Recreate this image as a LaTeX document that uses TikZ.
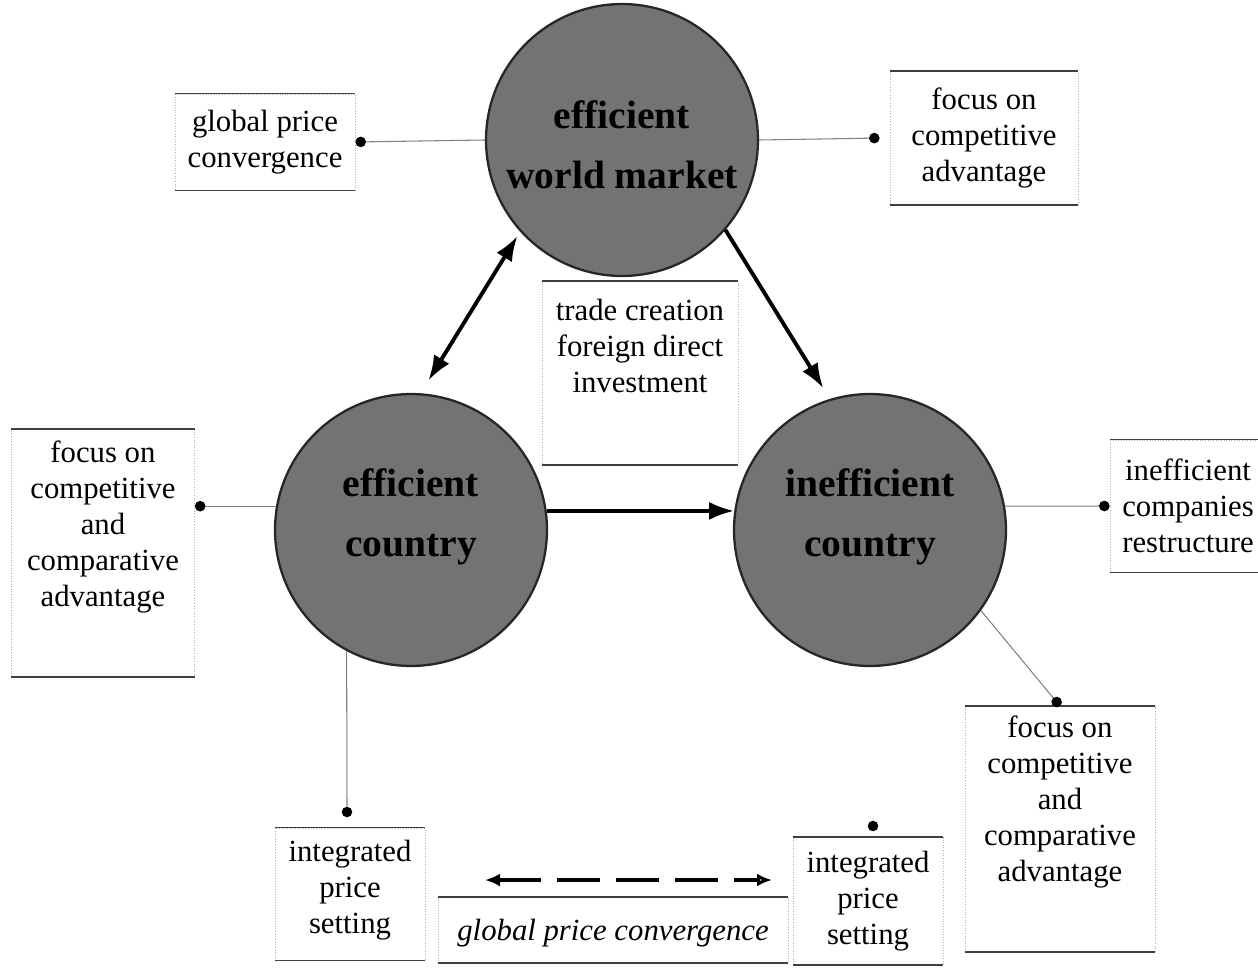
\documentclass[tikz,border=0pt]{standalone}
\usepackage{fontspec}
\setmainfont{Liberation Serif}
\usetikzlibrary{positioning}
\usetikzlibrary{arrows.meta}

\begin{document}
\begin{tikzpicture}[x=0.02cm, y=-0.02cm,
                          market/.style={circle, draw=black!85, line width=1.3pt, fill=black!55, minimum size=5.44cm, inner sep=0pt},
                          markettext/.style={inner sep=0pt, align=center, font=\fontsize{22.5}{34}\selectfont\bfseries},
                          framebox/.style={rectangle, draw=black!30, densely dotted, line width=0.5pt, inner sep=0pt},
                          frameedge/.style={draw=black!75, line width=0.9pt},
                          boxtext/.style={inner sep=0pt, align=center, font=\fontsize{17.5}{20.5}\selectfont},
                          link/.style={draw=black!50, line width=0.6pt, {Circle[black,length=6pt]}-},
                          pin/.style={circle, fill=black, minimum size=6pt, inner sep=0pt},
                          flow/.style={line width=2.2pt, -{Latex[length=5mm,width=3.6mm]}},
                      ]
                      \useasboundingbox (0,0) rectangle (1258,970);

                      %Circles
                      \node[market]      (wm)      at (622,140)     {};
                      \node[market]      (ec)      at (411,530)     {};
                      \node[market]      (ic)      at (870,530)     {};
                      \node[markettext]  (wm_t)    at ([yshift=-0.1cm]wm)  {efficient\\world market};
                      \node[markettext]  (ec_t)    at ([yshift=0.26cm]ec)  {efficient\\country};
                      \node[markettext]  (ic_t)    at ([yshift=0.26cm]ic)  {inefficient\\country};

                      %Boxes
                      \node[framebox, minimum width=3.6cm,  minimum height=1.92cm] (gpc) at (265,142)   {};
                      \node[framebox, minimum width=3.76cm, minimum height=2.66cm] (fca) at (984,138)   {};
                      \node[framebox, minimum width=3.92cm, minimum height=3.66cm] (tdc) at (640,373)   {};
                      \node[framebox, minimum width=3.66cm, minimum height=4.94cm] (fcl) at (103,553)   {};
                      \node[framebox, minimum width=3.04cm, minimum height=2.64cm] (iec) at (1186,506)  {};
                      \node[framebox, minimum width=3cm,    minimum height=2.64cm] (ipl) at (350,894)   {};
                      \node[framebox, minimum width=3cm,    minimum height=2.54cm] (ipr) at (868,901)   {};
                      \node[framebox, minimum width=3.8cm,  minimum height=4.9cm]  (fcr) at (1060,829)  {};
                      \node[framebox, minimum width=7cm,    minimum height=1.3cm]  (gpi) at (613,930)   {};
                      \foreach \b in {gpc,fca,tdc,fcl,iec,ipl,ipr,fcr,gpi}
                          \draw[frameedge] (\b.north west) -- (\b.north east) (\b.south west) -- (\b.south east);

                      %Texts
                      \node[boxtext]     (gpc_t)   at (gpc)                    {global price\\convergence};
                      \node[boxtext]     (fca_t)   at (fca)                    {focus on\\competitive\\advantage};
                      \node[boxtext]     (tdc_t)   [below=0.36cm of tdc.north] {trade creation\\foreign direct\\investment};
                      \node[boxtext]     (fcl_t)   [below=0.22cm of fcl.north] {focus on\\competitive\\and\\comparative\\advantage};
                      \node[boxtext]     (iec_t)   at ([xshift=0.04cm]iec)     {inefficient\\companies\\restructure};
                      \node[boxtext]     (ipl_t)   at ([yshift=0.08cm]ipl)     {integrated\\price\\setting};
                      \node[boxtext]     (ipr_t)   at (ipr)                    {integrated\\price\\setting};
                      \node[boxtext]     (fcr_t)   [below=0.18cm of fcr.north] {focus on\\competitive\\and\\comparative\\advantage};
                      \node[boxtext, font=\fontsize{17.5}{20.5}\selectfont\itshape] (gpi_t) at ([yshift=-0.06cm]gpi) {global price convergence};

                      %Pins
                      \node[pin]         (ipl_pin) at (347,812)      {};
                      \node[pin]         (ipr_pin) at (873,826)      {};
                      \coordinate        (gpi_l)   at (485,880);
                      \coordinate        (gpi_r)   at (772,880);

                      %Lines
                      \draw[link] (gpc.east) -- (wm.west);
                      \draw[link] ([xshift=-0.2cm]fca.west) -- (wm.east);
                      \draw[link] (fcl.east |- ec.170) -- (ec.170);
                      \draw[link] (iec.west) -- (ic.10);
                      \draw[link, -] (ipl_pin) -- (ec.242);
                      \draw[link] (fcr.north) -- (ic.-36);

                      %Arrows
                      \draw[flow, {Latex[length=5mm,width=3.6mm]}-{Latex[length=5mm,width=3.6mm]}, shorten <=0.3cm, shorten >=0.1cm] (ec.86) -- (wm.222);
                      \draw[flow, shorten >=0.25cm] (wm.-41) -- (ic.107);
                      \draw[flow] (ec.8) -- (ic.172);
                      \draw[line width=2pt, dash pattern=on 0.86cm off 0.32cm, {Latex[length=3mm,width=2.6mm]}-{Latex[length=3mm,width=2.6mm,open]}] (gpi_l) -- (gpi_r);
                  \end{tikzpicture}
\end{document}
